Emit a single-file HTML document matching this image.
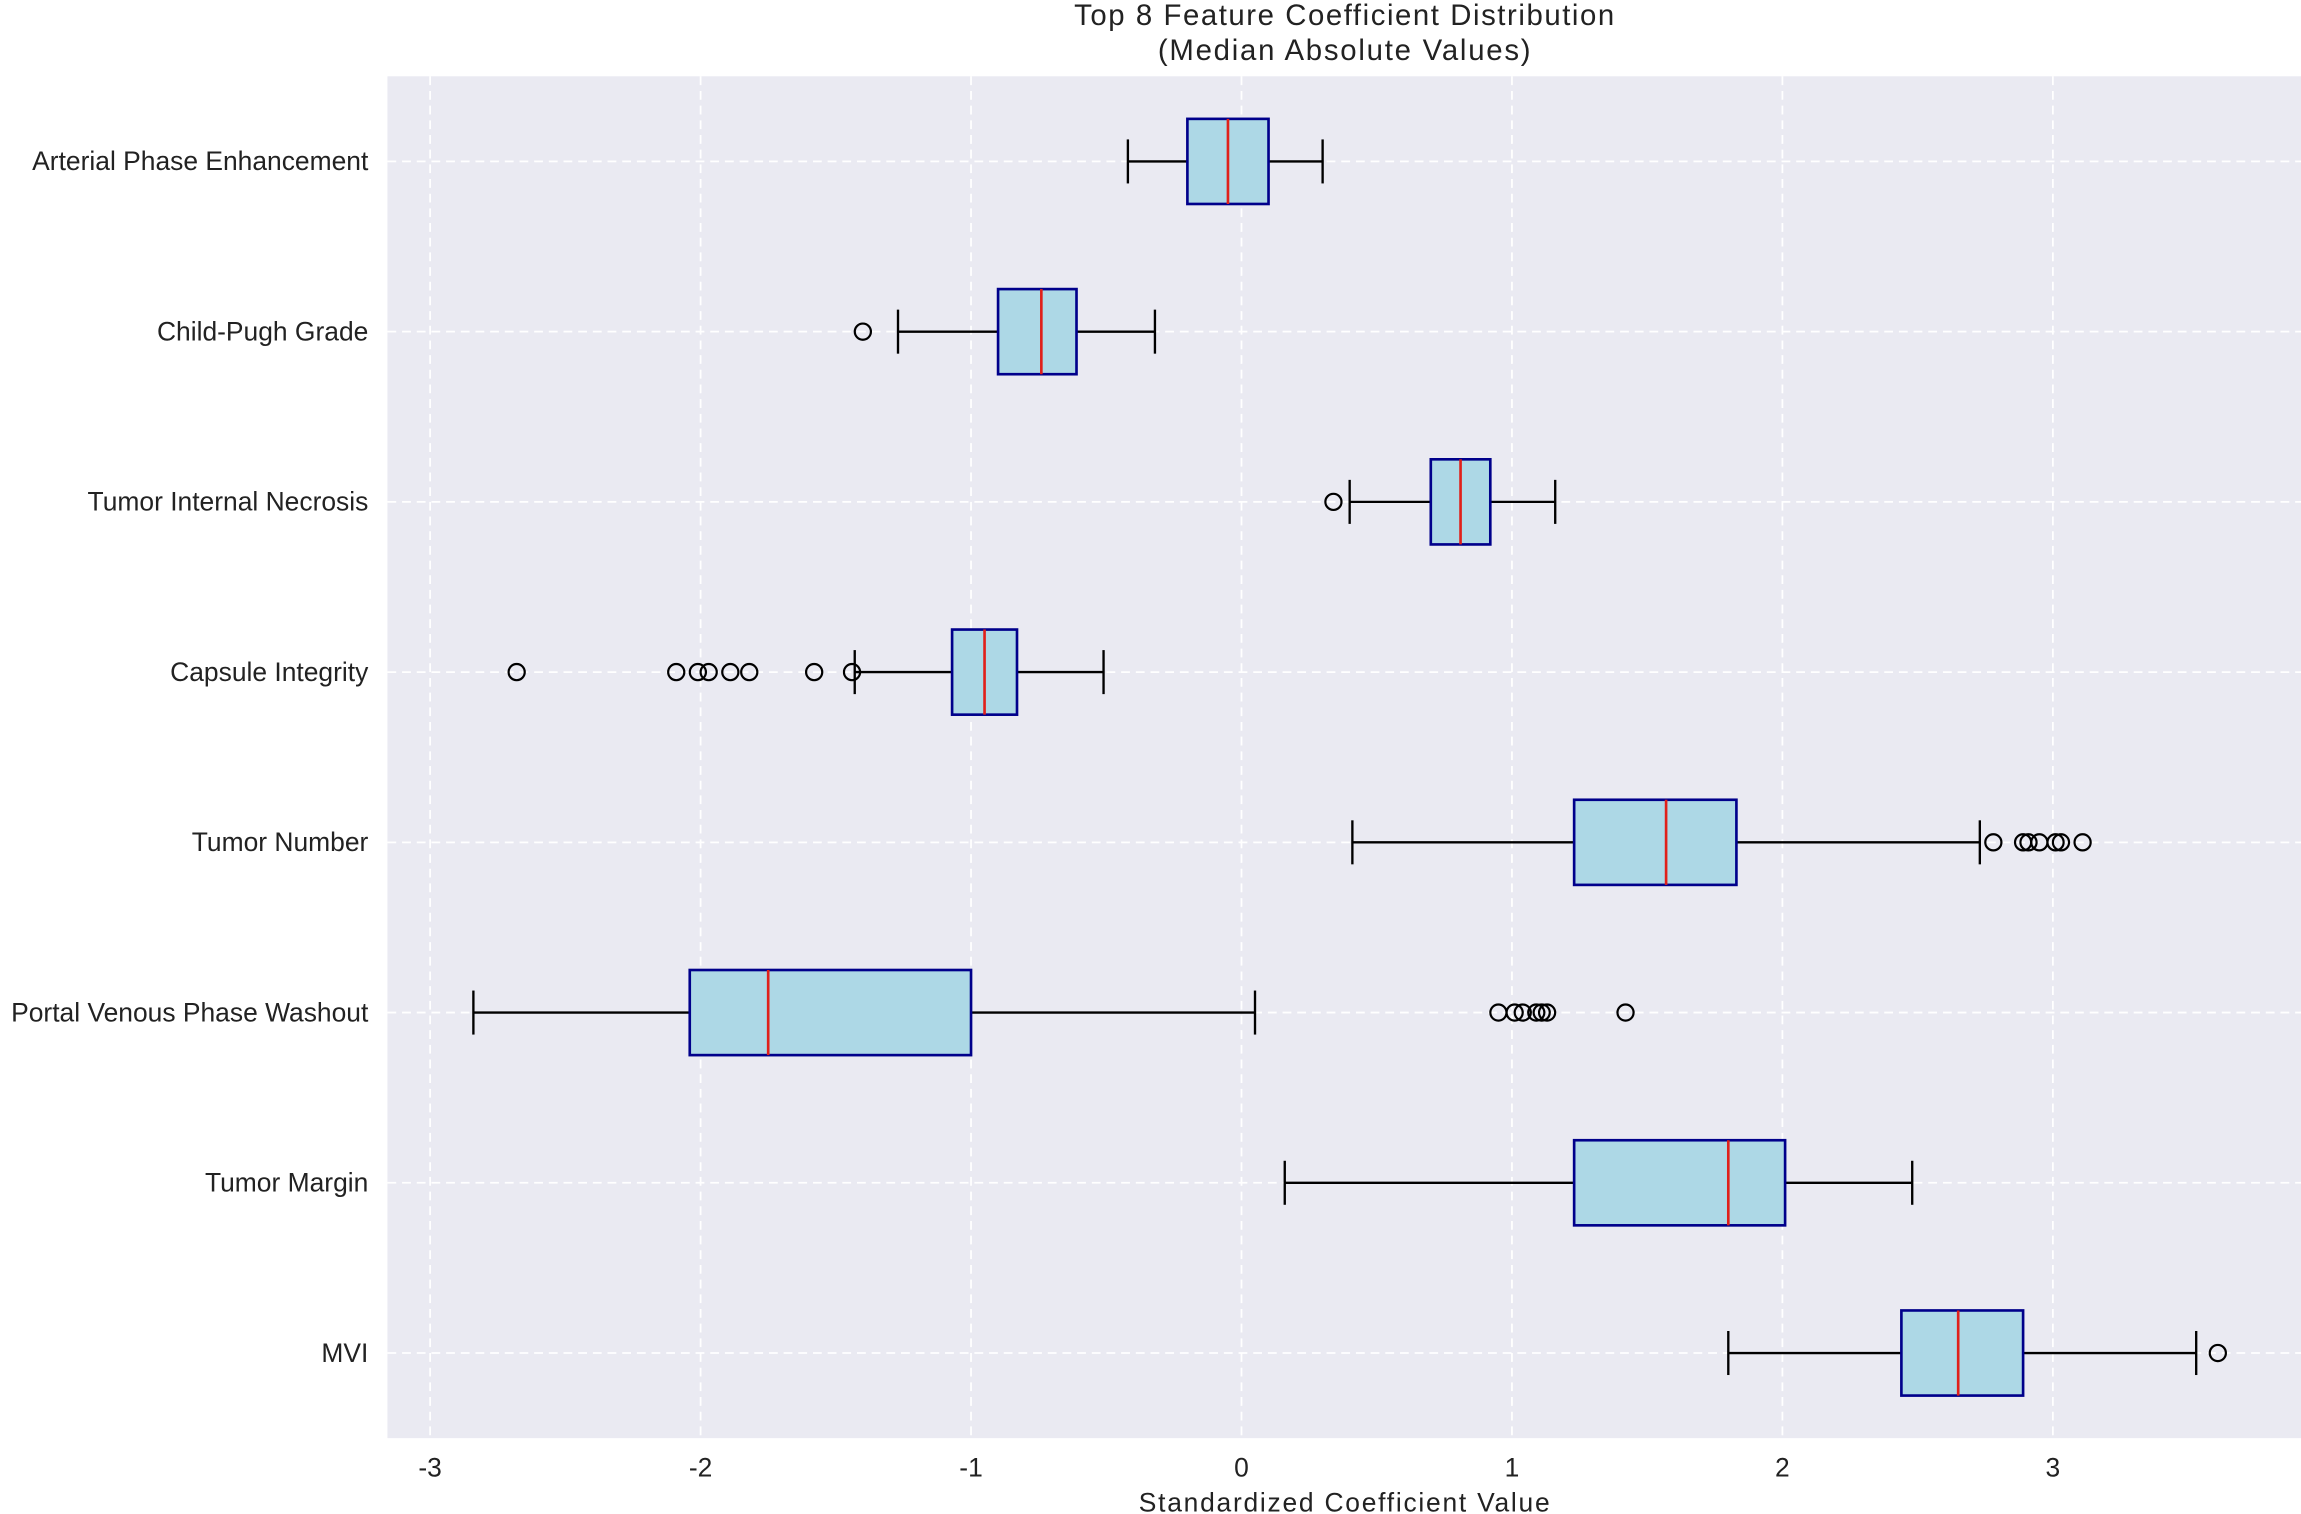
<!DOCTYPE html>
<html><head><meta charset="utf-8">
<style>
html,body{margin:0;padding:0;background:#fff;}
svg{display:block;font-family:"Liberation Sans",Arial,sans-serif;}
</style></head>
<body>
<svg id="chart" width="2301" height="1514" viewBox="0 0 1568 1031.7" preserveAspectRatio="none">
<rect x="264" y="52" width="1304" height="928" fill="#EAEAF2"/>
<g id="grid"></g>
<g id="boxes"></g>
<g id="labels"></g>
<text x="916" y="17" text-anchor="middle" font-size="20" fill="#222" textLength="368">Top 8 Feature Coefficient Distribution</text>
<text x="916" y="41" text-anchor="middle" font-size="20" fill="#222" textLength="254">(Median Absolute Values)</text>
<text x="916" y="1030" text-anchor="middle" font-size="18" fill="#222" textLength="280">Standardized Coefficient Value</text>
</svg>
<script>
const categories = ["Arterial Phase Enhancement","Child-Pugh Grade","Tumor Internal Necrosis","Capsule Integrity","Tumor Number","Portal Venous Phase Washout","Tumor Margin","MVI"];
const whiskerLow = [-0.42,-1.27,0.40,-1.43,0.41,-2.84,0.16,1.80];
const q1Values = [-0.20,-0.90,0.70,-1.07,1.23,-2.04,1.23,2.44];
const medianValues = [-0.05,-0.74,0.81,-0.95,1.57,-1.75,1.80,2.65];
const q3Values = [0.10,-0.61,0.92,-0.83,1.83,-1.00,2.01,2.89];
const whiskerHigh = [0.30,-0.32,1.16,-0.51,2.73,0.05,2.48,3.53];
const outliers = [[],[-1.40],[0.34],[-2.68,-2.09,-2.01,-1.97,-1.89,-1.82,-1.58,-1.44],[2.78,2.89,2.91,2.95,3.01,3.03,3.11],[0.95,1.01,1.04,1.09,1.11,1.13,1.42],[],[3.61]];
const xTicks = [-3,-2,-1,0,1,2,3];
const xTickLabels = ["-3","-2","-1","0","1","2","3"];

const NS="http://www.w3.org/2000/svg";
function xs(v){return 846+v*184.3;}
function ys(i){return 110+i*116;}
function mk(tag,attrs,parent){const e=document.createElementNS(NS,tag);for(const k in attrs)e.setAttribute(k,attrs[k]);parent.appendChild(e);return e;}
const grid=document.getElementById('grid'),boxes=document.getElementById('boxes'),labels=document.getElementById('labels');
xTicks.forEach((t,i)=>{
  const l=mk('line',{x1:xs(t),x2:xs(t),y1:52,y2:980,stroke:'#fff','stroke-width':1.2,'stroke-dasharray':'6,4'},grid);
  
  
  const tx=mk('text',{x:xs(t),y:1006,'text-anchor':'middle','font-size':18,fill:'#222'},labels);
  tx.textContent=xTickLabels[i];
  
  
});
categories.forEach((c,i)=>{
  const y=ys(i);
  const gl=mk('line',{x1:264,x2:1568,y1:y,y2:y,stroke:'#fff','stroke-width':1.2,'stroke-dasharray':'6,4'},grid);
  
  
  const tx=mk('text',{x:251,y:y+6,'text-anchor':'end','font-size':18,fill:'#222'},labels);
  tx.textContent=c;
  
  
  const g=mk('g',{},boxes);
  
  
  mk('line',{x1:xs(whiskerLow[i]),x2:xs(q1Values[i]),y1:y,y2:y,stroke:'#000','stroke-width':1.6},g);
  mk('line',{x1:xs(q3Values[i]),x2:xs(whiskerHigh[i]),y1:y,y2:y,stroke:'#000','stroke-width':1.6},g);
  mk('line',{x1:xs(whiskerLow[i]),x2:xs(whiskerLow[i]),y1:y-15,y2:y+15,stroke:'#000','stroke-width':1.6},g);
  mk('line',{x1:xs(whiskerHigh[i]),x2:xs(whiskerHigh[i]),y1:y-15,y2:y+15,stroke:'#000','stroke-width':1.6},g);
  mk('rect',{x:xs(q1Values[i]),y:y-29,width:xs(q3Values[i])-xs(q1Values[i]),height:58,fill:'#ADD8E6',stroke:'#00008B','stroke-width':1.8},g);
  mk('line',{x1:xs(medianValues[i]),x2:xs(medianValues[i]),y1:y-29,y2:y+29,stroke:'#E0201A','stroke-width':1.8},g);
  outliers[i].forEach(v=>{
    const o=mk('circle',{cx:xs(v),cy:y,r:5.5,fill:'none',stroke:'#000','stroke-width':1.5},g);
    
    
  });
});
</script>
</body></html>
